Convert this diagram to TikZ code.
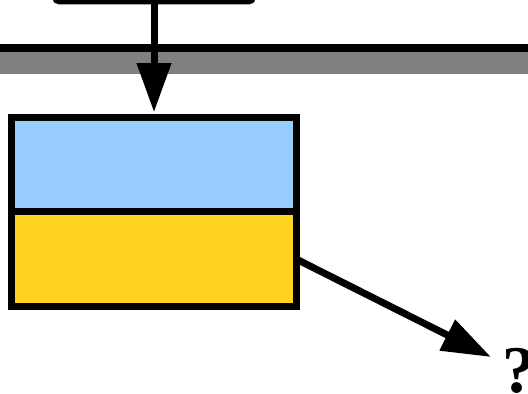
\documentclass[tikz,border=0pt]{standalone}
\usepackage{fontspec}
\setmainfont{Liberation Serif}
\usetikzlibrary{arrows.meta,positioning}
\definecolor{boxblue}{HTML}{99CCFF}
\definecolor{boxyellow}{HTML}{FFD320}
\definecolor{busgray}{HTML}{808080}

\begin{document}
\begin{tikzpicture}[x=0.02cm,y=-0.02cm,>={Triangle[length=0.98cm,width=0.66cm]},
  part/.style={rectangle,draw,line width=0.14cm,minimum width=5.7cm,minimum height=1.89cm,inner sep=0pt,outer sep=0pt},
  link/.style={->,line width=0.14cm}]
  \useasboundingbox (0,0) rectangle (528,393);
  \clip (0,0) rectangle (528,393);
  % source box, cut off by the top edge
  \node[draw,line width=0.13cm,rounded corners=2pt,minimum width=3.94cm,minimum height=1.5cm,outer sep=0pt,anchor=south] (src) at (154,1) {};
  % bus
  \fill[busgray] (0,52) rectangle (528,74);
  \draw[line width=0.16cm] (0,48) -- (528,48);
  % unit, two halves
  \node[part,fill=boxblue,anchor=north] (upper) at (154,117.5) {};
  \node[part,fill=boxyellow,anchor=north] (lower) at (upper.south) {};
  % output
  \coordinate (tip) at (491,357);
  \node[font=\bfseries\fontsize{38}{42}\selectfont,inner sep=0pt,anchor=base west] (result) at (502,392) {?};
  \draw[link,shorten >=3pt] (src.south) -- (upper.north);
  \draw[link] (lower.east) -- (tip);
\end{tikzpicture}
\end{document}
